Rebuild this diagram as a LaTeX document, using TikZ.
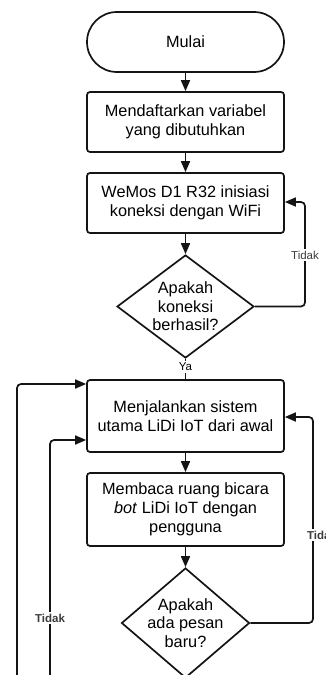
\documentclass[tikz,border=0pt]{standalone}
\usepackage{fontspec}
\setmainfont{Liberation Sans}
\usepackage{tikz}
\usepackage{xcolor}
\usetikzlibrary{shapes.geometric, arrows.meta, positioning}
\definecolor{lidi-line}{RGB}{20,20,20}
\definecolor{lidi-label}{RGB}{60,60,60}

\tikzset{
  terminal/.style={draw=lidi-line, line width=1.7pt, rounded corners=30pt,
    minimum width=197pt, minimum height=60pt, align=center,
    font=\fontsize{16.3}{19}\selectfont},
  process/.style={draw=lidi-line, line width=1.7pt, rounded corners=3pt,
    minimum width=197pt, align=center, inner sep=0pt,
    font=\fontsize{16.3}{19}\selectfont},
  decision/.style={draw=lidi-line, line width=1.7pt, diamond, inner sep=0pt},
  dectext/.style={align=center, font=\fontsize{16.3}{18.5}\selectfont},
  conn/.style={draw=lidi-line, line width=1.7pt, rounded corners=4pt,
    -{Triangle[length=11pt,width=9pt]}},
  plain/.style={draw=lidi-line, line width=1.7pt},
  lbl/.style={fill=white, inner sep=1.5pt, text=lidi-label,
    font=\fontsize{11.5}{13}\selectfont}
}

\begin{document}
\begin{tikzpicture}[x=1pt, y=-1pt]
  \clip (0,0) rectangle (326,675);

  % Blocks
  \node[terminal] (mulai) at (185.5,42) {Mulai};
  \node[process, minimum height=60pt] (daftar) at (185.5,122) {Mendaftarkan variabel\\yang dibutuhkan};
  \node[process, minimum height=60pt] (wifi) at (185.5,203) {WeMos D1 R32 inisiasi\\koneksi dengan WiFi};
  \node[decision, minimum width=137pt, minimum height=103pt,
        label={[dectext]center:Apakah\\koneksi\\berhasil?}] (cekwifi) at (185.5,306.5) {};
  \node[process, minimum height=72pt] (utama) at (185.5,416) {Menjalankan sistem\\utama LiDi IoT dari awal};
  \node[process, minimum height=73pt] (baca) at (185.5,509.5) {Membaca ruang bicara\\\textit{bot} LiDi IoT dengan\\pengguna};
  \node[decision, minimum width=128pt, minimum height=110pt,
        label={[dectext]center:Apakah\\ada pesan\\baru?}] (cekpesan) at (185.5,623) {};

  % Loop ends
  \coordinate (loopwifi) at (305,0);
  \coordinate (looppesan) at (313,0);
  \coordinate (kiriluar) at (17,700);
  \coordinate (kiridalam) at (50,700);
  \coordinate (masukluar) at (0,384);
  \coordinate (masukdalam) at (0,440);
  \coordinate (masukwifi) at (0,202);
  \coordinate (masukpesan) at (0,417);

  % Main flow
  \draw[conn] (mulai) -- (daftar);
  \draw[conn] (daftar) -- (wifi);
  \draw[conn] (wifi) -- (cekwifi);
  \draw[plain] (cekwifi.south) -- (utama.north);
  \node[lbl, text=black] (ya) at (185.5,367) {Ya};
  \draw[conn] (utama) -- (baca);
  \draw[conn] (baca) -- (cekpesan);

  % Tidak loops
  \draw[conn] (cekwifi.east) -- (cekwifi.east -| loopwifi) |- (masukwifi -| wifi.east);
  \node[lbl] (tidakwifi) at (305,255) {Tidak};
  \draw[conn] (cekpesan.east) -- (cekpesan.east -| looppesan) |- (masukpesan -| utama.east);
  \node[lbl, font=\fontsize{11.5}{13}\selectfont\bfseries] (tidakpesan) at (322,535) {Tidak};
  \draw[conn] (kiriluar) |- (masukluar -| utama.west);
  \draw[conn] (kiridalam) |- (masukdalam -| utama.west);
  \node[lbl, font=\fontsize{11.5}{13}\selectfont\bfseries] (tidakkiri) at (50,618) {Tidak};
\end{tikzpicture}
\end{document}
